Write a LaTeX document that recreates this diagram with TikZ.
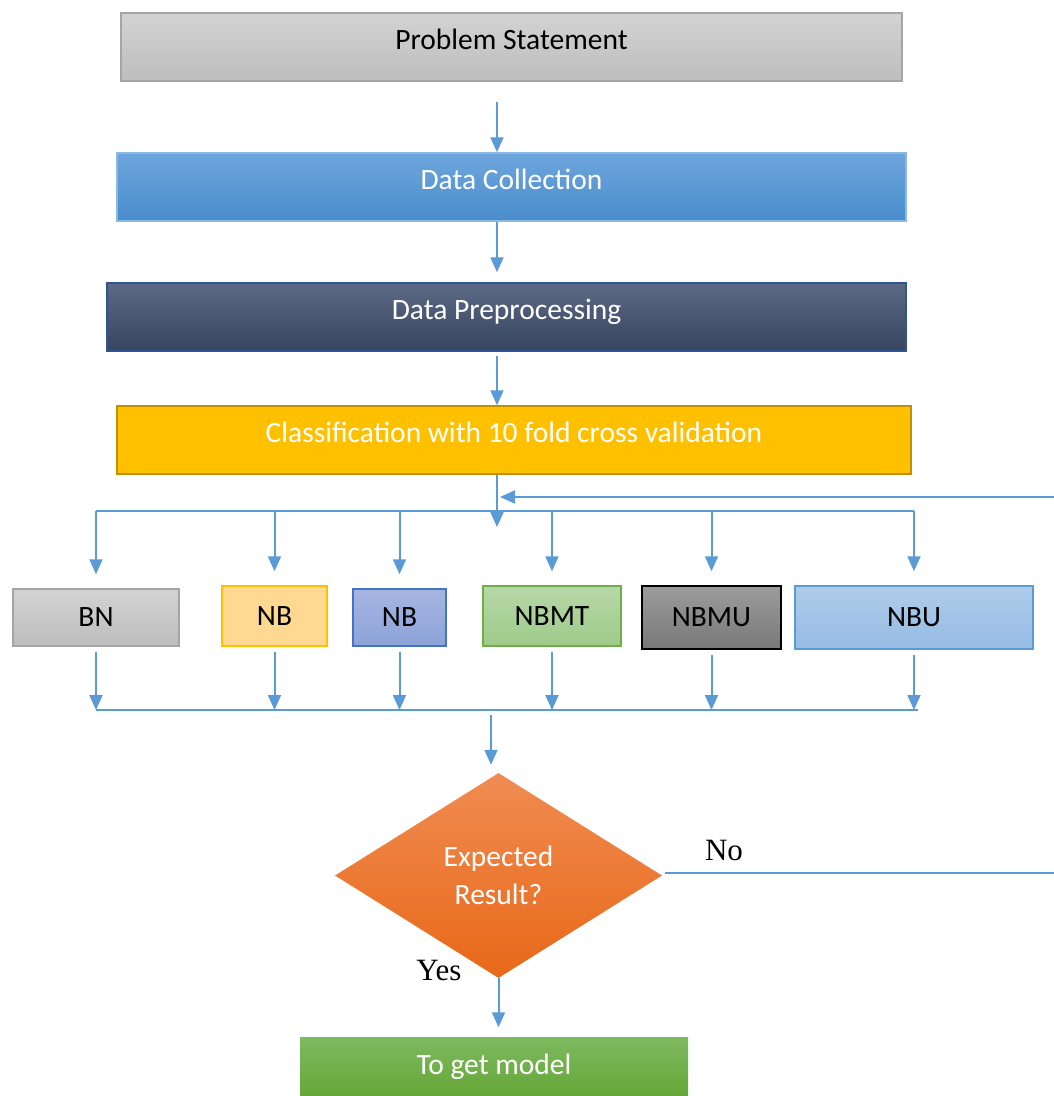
\documentclass[tikz,border=0pt]{standalone}
\usepackage{fontspec}
\setmainfont{Carlito}
\newfontfamily\yesnofont{Liberation Serif}
\usetikzlibrary{arrows.meta,shapes.geometric,calc}

\definecolor{lineblue}{HTML}{5B9BD5}
\definecolor{grayA}{HTML}{D3D3D3}
\definecolor{grayB}{HTML}{BDBDBD}
\definecolor{grayE}{HTML}{A5A5A5}
\definecolor{collA}{HTML}{6EA6DC}
\definecolor{collB}{HTML}{4A8CCD}
\definecolor{prepA}{HTML}{5C6A85}
\definecolor{prepB}{HTML}{36445F}
\definecolor{prepE}{HTML}{2F5597}
\definecolor{clasF}{HTML}{FFC000}
\definecolor{clasE}{HTML}{BF9000}
\definecolor{nbaF}{HTML}{FFD991}
\definecolor{nbbA}{HTML}{A6B5E1}
\definecolor{nbbB}{HTML}{8CA3D8}
\definecolor{nbbE}{HTML}{4472C4}
\definecolor{nbmtA}{HTML}{B7D7A8}
\definecolor{nbmtB}{HTML}{9ECB8A}
\definecolor{nbmtE}{HTML}{70AD47}
\definecolor{nbmuA}{HTML}{9C9C9C}
\definecolor{nbmuB}{HTML}{787878}
\definecolor{nbuA}{HTML}{B0CCEA}
\definecolor{nbuB}{HTML}{96BBE4}
\definecolor{decA}{HTML}{F08C52}
\definecolor{decB}{HTML}{E86818}
\definecolor{modA}{HTML}{7EB960}
\definecolor{modB}{HTML}{66A738}

\begin{document}
\begin{tikzpicture}[x=1pt,y=-1pt,
  box/.style={draw,rectangle,inner sep=0pt,line width=1.5pt,font=\fontsize{29.5}{35}\selectfont},
  wide/.style={box,text height=0.62em,text depth=0.2em},
  arr/.style={draw=lineblue,line width=2pt,-{Triangle[width=13pt,length=15pt]}},
  ln/.style={draw=lineblue,line width=1.5pt},
  lbl/.style={font=\yesnofont\fontsize{31}{31}\selectfont}]
  \useasboundingbox (0,0) rectangle (1054,1096);

  % main column
  \node[wide,draw=grayE,top color=grayA,bottom color=grayB,minimum width=781pt,minimum height=68pt] (prob) at (511.5,47) {Problem Statement};
  \node[wide,draw=lineblue!70,top color=collA,bottom color=collB,text=white,minimum width=789pt,minimum height=68pt] (coll) at (511.5,187) {Data Collection};
  \node[wide,draw=prepE,top color=prepA,bottom color=prepB,text=white,minimum width=799pt,minimum height=68pt] (prep) at (506.5,317) {Data Preprocessing};
  \node[wide,draw=clasE,fill=clasF,text=white,minimum width=794pt,minimum height=68pt] (clas) at (514,440) {Classification with 10 fold cross validation};

  % classifiers
  \node[box,draw=grayE,top color=grayA,bottom color=grayB,minimum width=166pt,minimum height=57pt] (bn) at (96,617.5) {BN};
  \node[box,draw=clasF,fill=nbaF,minimum width=105pt,minimum height=60pt] (nba) at (274.5,616) {NB};
  \node[box,draw=nbbE,top color=nbbA,bottom color=nbbB,minimum width=93pt,minimum height=57pt] (nbb) at (399.5,617.5) {NB};
  \node[box,draw=nbmtE,top color=nbmtA,bottom color=nbmtB,minimum width=138pt,minimum height=60pt] (nbmt) at (552,616) {NBMT};
  \node[box,draw=black,top color=nbmuA,bottom color=nbmuB,minimum width=139pt,minimum height=63pt] (nbmu) at (711.5,617.5) {NBMU};
  \node[box,draw=lineblue,top color=nbuA,bottom color=nbuB,minimum width=238pt,minimum height=63pt] (nbu) at (914,617.5) {NBU};

  % decision and result
  \node[diamond,aspect=1.6,inner sep=0pt,minimum width=327pt,minimum height=205pt,align=center,text=white,
        top color=decA,bottom color=decB,font=\fontsize{29.5}{38}\selectfont] (dec) at (498.5,875.5) {Expected\\Result?};
  \node[box,draw=none,top color=modA,bottom color=modB,text=white,minimum width=388pt,minimum height=59pt] (model) at (494,1066.5) {To get model};
  \node[lbl] (nolbl) at (724,850) {No};
  \node[lbl] (yeslbl) at (439,970) {Yes};

  % helper points
  \coordinate (mid) at (497,0);
  \coordinate (split) at (497,527);
  \coordinate (fanL) at (96,511);
  \coordinate (fanR) at (914,511);
  \coordinate (joinL) at (96,710);
  \coordinate (joinR) at (918,710);
  \coordinate (join) at (491,710);
  \coordinate (fb) at (1054,497);
  \coordinate (noend) at (1054,873);

  % arrows of the main column
  \draw[arr] ($(prob.south -| mid)+(0,20)$) -- (coll.north -| mid);
  \draw[arr,shorten >=10pt] (coll.south -| mid) -- (prep.north -| mid);
  \draw[arr,shorten <=4pt] (prep.south -| mid) -- (clas.north -| mid);
  \draw[arr] (clas.south -| mid) -- (split);

  % fan out and back in
  \draw[ln] (fanL) -- (fanR);
  \draw[ln] (joinL) -- (joinR);
  \foreach \b in {bn,nba,nbb,nbmt,nbmu,nbu} {
    \draw[arr,shorten >=14pt] (\b.north |- fanL) -- (\b.north);
    \draw[arr,shorten <=5pt] (\b.south) -- (\b.south |- joinL);
  }
  \draw[arr,shorten <=5pt,shorten >=8pt] (join) -- (join |- dec.north);

  % decision
  \draw[arr,shorten >=9pt] (dec.south) -- (dec.south |- model.north);
  \draw[ln] ($(noend -| dec.east)+(3,0)$) -- (noend);
  \draw[arr,shorten >=3pt] (fb) -- (fb -| mid);
\end{tikzpicture}
\end{document}
